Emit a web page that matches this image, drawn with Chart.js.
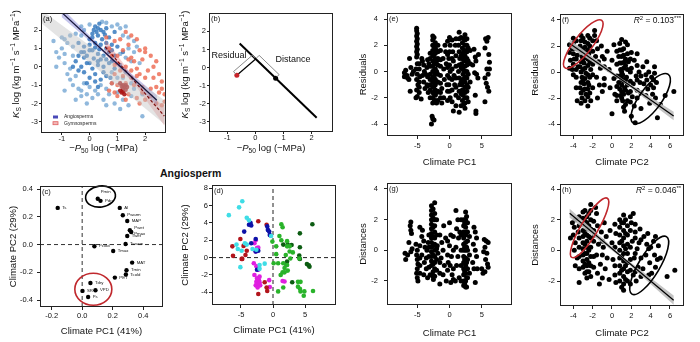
<!DOCTYPE html>
<html>
<head>
<meta charset="utf-8">
<script src="https://cdn.jsdelivr.net/npm/chart.js@4.4.1/dist/chart.umd.min.js"></script>
<style>
html, body { margin: 0; padding: 0; background: #fff; }
#fig { position: relative; width: 700px; height: 342px; overflow: hidden; }
#fig canvas { position: absolute; }
#title { position: absolute; left: 160px; top: 167px; font: bold 10.5px "Liberation Sans", Arial, sans-serif; line-height: 13px; color: #111; }
</style>
</head>
<body>
<div id="fig"><div id="title">Angiosperm</div></div>
<script>
// ---------- data ----------
// (a) Ks vs P50, [ -P50 log, Ks log ]
const angioDark = [[0.2,2.2],[0.3,2.1],[0.4,2.0],[0.25,1.9],[0.1,1.8],[0.5,1.9],[0.6,2.1],[0.35,2.35],[0.15,2.0],
  [-0.2,1.1],[0.0,1.2],[0.2,1.3],[0.4,1.2],[0.6,1.0],[0.8,1.2],[-0.3,0.8],[-0.1,0.6],[0.1,0.9],[0.3,0.7],[0.5,0.6],[0.7,0.8],[0.9,0.6],
  [-0.5,0.3],[-0.3,0.0],[-0.1,0.2],[0.1,-0.1],[0.3,0.3],[0.5,0.0],[0.7,0.2],[0.9,-0.1],[-0.2,-0.3],[0.0,-0.6],[0.2,-0.4],[0.4,-0.7],[0.6,-0.5],
  [0.0,1.5],[-0.4,1.3],[0.45,1.5],[0.7,1.6],[0.9,1.9],[1.0,1.1],[1.2,0.8],[0.3,0.1],[0.0,0.2],[-0.2,0.5],[0.6,0.4],
  [0.1,1.6],[0.3,1.7],[0.55,1.75],[0.2,1.05],[0.35,0.95],[0.6,1.3],[0.0,0.9],[-0.2,0.8],[0.15,0.45],[0.4,0.4],[0.8,0.9],
  [-0.4,0.6],[-0.6,0.0],[-0.4,-0.2],[0.2,-0.8],[0.5,-0.3],[0.75,-0.6],[0.8,0.3],[-0.1,-0.9],[0.3,-1.1]];
const angioLight = [[0.8,2.2],[1.0,2.3],[1.1,2.1],[-0.3,1.7],[-0.5,1.8],[-0.7,1.7],[-0.2,2.0],[1.2,1.7],[1.3,2.2],[0.45,2.45],
  [-1.3,1.4],[-1.0,1.0],[-0.8,1.3],[-0.6,1.1],[1.4,1.0],[-0.9,0.7],[-0.6,0.6],[1.1,0.7],[1.3,0.5],[1.6,0.8],
  [-0.9,0.2],[-0.7,-0.1],[1.1,0.1],[-0.8,-0.4],[-0.5,-0.5],[0.8,-0.3],[1.0,-0.6],[1.5,0.3],[1.8,0.2],
  [-0.6,-1.0],[-0.4,-1.2],[-0.2,-0.9],[0.0,-1.1],[0.2,-1.3],[0.4,-1.0],[0.6,-1.2],[0.8,-0.9],[-0.3,-1.6],[0.1,-1.7],[0.3,-1.5],
  [0.5,-1.8],[-0.1,-2.0],[0.7,-1.5],[1.0,-1.4],[1.2,-1.8],[1.5,-1.6],[0.9,-2.0],[1.4,-2.1],[1.9,-2.7],[1.6,-1.2],[-0.9,-1.3],
  [-1.1,0.5],[-1.2,0.0],[1.7,1.1],
  [-1.0,1.6],[-0.9,1.5],[-1.2,0.8],[-0.3,2.2],[0.0,2.3],[0.6,2.4],[1.4,1.6],[1.6,1.4],[1.3,-0.3],[1.5,-0.9],[-0.7,-0.7],
  [-0.3,-1.3],[-0.1,-1.5],[0.6,-2.1],[1.1,-2.3],[-0.5,-1.8],[1.9,-1.5],[1.2,-0.6]];
const gymnoLight = [[0.6,1.6],[0.9,1.4],[1.1,1.5],[1.4,1.2],[1.7,1.5],[2.0,1.0],[1.2,0.9],[0.8,0.6],[1.5,0.5],[1.9,0.4],[2.2,0.6],
  [1.0,0.2],[1.3,0.0],[1.7,-0.1],[2.1,-0.2],[2.4,0.3],[0.9,-0.4],[1.2,-0.5],[1.5,-0.6],[1.8,-0.4],[2.3,-0.6],[2.6,-0.8],
  [0.8,-0.9],[1.0,-1.0],[1.3,-0.9],[1.4,-1.5],[1.6,-1.0],[1.9,-1.1],[2.2,-1.2],[2.5,-1.4],[2.7,-1.5],[1.0,-1.6],[1.3,-1.8],
  [1.7,-1.7],[2.0,-1.8],[2.4,-2.0],[2.6,-2.1],[0.7,-1.3],[0.9,-1.4],[1.5,-0.2],[2.0,0.8],[1.3,1.9],[1.6,0.3],
  [0.7,1.0],[1.0,0.6],[1.8,0.9],[2.3,0.0],[2.5,-0.4],[1.4,0.4],[1.7,-0.5],[2.0,-0.6],[2.4,-1.1],[2.7,-1.9],[1.9,-1.4],
  [1.1,-0.2],[0.9,0.1],[2.2,-1.6],[2.6,-1.2],[1.5,1.7],[1.8,-2.0]];
const gymnoDark = [[1.1,-0.9],[1.2,-1.0],[1.3,-1.0],[1.2,-1.2],[1.25,-1.1],[1.15,-1.05],[1.3,-1.25],[1.2,-1.35],[1.1,-1.3],[1.35,-1.1],[1.15,-1.4],[1.25,-1.5]];
const angioFit = [[-1.0,2.95],[2.42,-1.82]];
const gymnoFit = [[0.56,1.09],[2.69,-2.69]];
const pooledBand = [[-1.75,3.1],[2.75,-1.9],[2.75,-3.2],[-1.75,2.4]];
const angioBand = [[-1.0,3.2],[0.7,0.66],[2.42,-1.55],[2.42,-2.1],[0.7,0.5],[-1.0,2.7]];
const gymnoBand = [[0.56,1.5],[1.6,-0.6],[2.69,-2.2],[2.69,-3.2],[1.6,-0.92],[0.56,0.68]];

// (b) schematic
const schemeLine = [[-0.56,1.33],[2.18,-2.78]];
const schemeSpecies = [-0.66,-0.43];
const schemeFoot = [0.01,0.475];
const schemeProj = [0.72,-0.59];

// (c) climate variable loadings
const climVars = ['Pmin','Pdry','Ts','AI','Pwarm','MAP','Pwet','Pmax','Twet','Pcold','Twarm','Tmax','MAT','Tmin','Tcold','PET','Tdry','SR','VPD','Ps'];
const climPC1 = [0.102,0.12,-0.16,0.246,0.266,0.295,0.312,0.321,0.295,0.08,0.284,0.203,0.327,0.29,0.286,0.214,0.054,0.002,0.087,0.039];
const climPC2 = [0.33,0.315,0.264,0.264,0.211,0.17,0.103,0.091,0.062,-0.012,0.004,-0.046,-0.13,-0.185,-0.216,-0.238,-0.277,-0.334,-0.329,-0.378];

// (d) site scores [PC1, PC2] by group
const pcCyan = [[-4.8,6.5],[-5.3,5.8],[-6.9,4.9],[-4.1,4.6],[-3.75,4.3],[-5.7,1.5],[-5.5,1.0],[-5.1,-1.1],[-4.4,1.65],[-4.1,1.5],
  [-3.2,1.0],[-2.1,-0.85],[-1.3,-0.7],[-2.1,-1.3],[-0.3,2.5],[-4.9,0.8],[-2.6,0.9]];
const pcNavy = [[-3.5,4.0],[-3.4,3.7],[-3.75,3.8],[-0.9,3.6],[-0.8,3.2],[-0.5,2.6],[-0.6,3.0],[-4.5,3.0],[-2.7,2.15],[-2.3,0.8],[-3.4,1.65],[-2.7,0.7],[-2.5,-1.4]];
const pcRed = [[-2.3,4.2],[-1.0,3.8],[-5.1,2.15],[-6.35,1.3],[-6.25,0.2],[-4.9,-0.15],[-4.6,1.35],[-4.1,0.8],[-4.3,0.3],[-4.8,-0.15],
  [-1.3,-2.85],[-1.0,-3.45],[-0.9,-3.85],[-2.3,-4.2],[-4.4,1.5]];
const pcMagenta = [[-2.7,2.0],[-2.5,1.1],[-2.7,0.7],[-3.0,-0.65],[-2.6,-1.0],[-2.3,-1.4],[-2.9,-2.0],[-2.5,-2.4],[-2.2,-2.6],[-2.6,-2.8],
  [-2.3,-3.1],[-2.1,-2.85],[-2.7,-3.2],[-2.0,-3.2],[-0.6,-2.6],[-0.5,-3.4],[1.5,-2.7],[1.8,-2.75],[-2.9,1.65],[-2.3,1.15],[-2.4,-3.45],[-2.1,-2.2]];
const pcGreen = [[1.3,3.85],[1.5,3.5],[1.0,2.5],[1.3,2.0],[-0.1,1.85],[0.5,1.3],[2.2,1.3],[2.6,0.7],[2.0,0.3],[0.1,-0.65],[0.8,-0.65],
  [1.6,-0.65],[1.8,-1.2],[1.5,-1.7],[1.8,-1.7],[1.2,-2.0],[2.2,-0.85],[2.3,-1.5],[0.8,-3.9],[1.6,-3.45],[2.7,-0.1],[3.9,-2.8],
  [4.2,-3.6],[4.3,-3.9],[4.8,-4.4],[4.9,-3.9],[6.25,-3.85],[3.9,-3.35],[2.2,1.9],[2.6,1.3],[3.1,0.6],[4.1,-0.1],[4.3,-2.8],[0.5,0.4]];
const pcDarkGreen = [[6.15,3.85],[4.2,2.8],[1.6,1.5],[2.3,1.5],[4.2,1.2],[4.1,0.25],[4.2,-0.15],[2.2,-0.45],[2.1,-0.85],[3.0,-2.85],
  [5.3,-0.75],[5.6,-0.9],[5.7,-1.05],[2.9,1.45]];

// (e) residuals vs Climate PC1
const resPC1 = [[-5.1,3.3],[-5.1,3.1],[-5.0,2.9],[-5.1,2.7],[-5.0,2.5],[-5.1,2.3],[-5.0,2.1],[-5.1,1.9],[-5.0,1.7],[-5.1,1.5],[-5.0,1.3],
  [-5.1,1.1],[-5.0,0.6],[-5.2,0.2],[-5.0,-0.2],[-5.1,-0.6],[-4.9,-1.0],[-5.1,-1.4],[-5.0,-1.9],[-5.2,-2.0],
  [-7.0,-0.1],[-7.0,-0.4],[-6.8,0.1],[-6.6,-0.3],[-6.3,-0.6],[-6.2,1.0],[-6.1,-1.5],[-6.0,0.3],[-5.8,-0.2],[-5.6,0.0],[-6.5,-0.5],
  [-4.3,1.0],[-4.2,0.8],[-4.0,0.5],[-4.2,-0.3],[-4.0,-0.8],[-3.8,-1.3],[-4.4,-2.1],[-3.7,-0.2],[-3.5,0.3],[-3.5,-1.0],[-3.3,-1.6],
  [-4.6,-0.4],[-3.9,0.0],[-3.2,0.6],[-3.0,-2.0],[-3.4,0.9],[-3.4,-0.4],[-3.4,-1.1],
  [-4.7,0.6],[-4.7,0.2],[-4.7,-0.8],[-4.7,-1.2],[-4.7,-1.6],
  [-3.0,1.4],[-3.0,1.0],[-3.0,0.4],[-3.0,-0.2],[-3.0,-0.6],[-3.0,-1.0],[-3.0,-1.4],
  [-2.6,2.7],[-2.6,2.4],[-2.6,2.0],[-2.6,1.6],[-2.6,1.2],[-2.6,0.8],[-2.6,0.4],[-2.6,0.0],[-2.6,-0.4],[-2.6,-0.8],[-2.6,-1.2],[-2.6,-1.6],[-2.6,-2.0],[-2.6,-2.4],
  [-2.4,2.6],[-2.4,1.9],[-2.4,1.3],[-2.4,0.7],[-2.4,0.1],[-2.4,-0.5],[-2.4,-1.1],[-2.4,-1.7],[-2.4,-2.3],
  [-2.2,2.2],[-2.2,1.8],[-2.2,1.4],[-2.2,1.0],[-2.2,0.6],[-2.2,0.2],[-2.2,-0.2],[-2.2,-0.6],[-2.2,-1.0],[-2.2,-1.4],[-2.2,-1.8],[-2.2,-2.2],
  [-2.0,1.6],[-2.0,0.8],[-2.0,0.0],[-2.0,-0.8],[-2.0,-1.6],[-2.0,-2.4],
  [-1.8,2.0],[-1.8,1.5],[-1.8,1.0],[-1.8,0.5],[-1.8,-0.2],[-1.8,-0.8],[-1.8,-1.5],[-1.8,-2.2],
  [-1.4,1.6],[-1.4,0.9],[-1.4,-0.3],[-1.4,-0.9],[-1.4,-1.6],[-1.4,-2.0],
  [-2.7,-3.4],[-2.6,-3.6],[-2.4,-3.7],[-2.8,-4.0],
  [-1.0,1.0],[-0.9,0.2],[-0.8,-0.6],[-1.2,-1.3],[-0.6,1.5],[-0.5,0.6],[-0.4,-1.0],[-1.2,-2.4],[-0.9,-2.0],[-1.4,0.4],[-0.7,2.0],
  [-0.3,2.3],[-0.3,1.3],[-0.3,0.3],[-0.3,-0.3],[-0.3,-1.5],[-0.3,-2.2],
  [0.0,2.6],[0.1,2.0],[0.0,1.5],[-0.1,1.0],[0.0,0.5],[0.1,0.0],[0.0,-0.5],[-0.1,-1.0],[0.0,-1.5],[0.1,-2.0],
  [0.4,2.4],[0.4,1.0],[0.4,0.2],[0.4,-1.4],[0.4,-2.3],
  [0.5,1.5],[0.6,0.8],[0.7,-0.3],[0.8,-1.0],[0.6,-3.0],[0.9,2.0],[1.0,-1.8],[0.4,-0.6],
  [1.0,2.5],[1.0,1.2],[1.0,0.4],[1.0,-0.5],[1.0,-1.2],[1.0,-2.6],
  [1.5,3.0],[1.5,2.5],[1.4,2.0],[1.5,1.5],[1.6,1.0],[1.5,0.5],[1.4,0.0],[1.5,-0.5],[1.6,-1.0],[1.5,-1.5],[1.4,-2.0],[1.5,-3.1],
  [1.8,2.6],[1.8,1.2],[1.8,0.3],[1.8,-0.8],[1.8,-1.7],[1.8,-2.6],
  [2.0,2.2],[2.0,1.8],[2.1,1.4],[2.0,1.0],[1.9,0.6],[2.0,0.2],[2.1,-0.2],[2.0,-0.6],[1.9,-1.0],[2.0,-1.4],[2.1,-1.8],[2.0,-2.2],
  [2.2,2.5],[2.2,1.6],[2.2,0.9],[2.2,0.1],[2.2,-0.7],[2.2,-1.5],[2.2,-2.5],
  [2.4,2.8],[2.4,2.4],[2.4,2.0],[2.4,1.6],[2.4,1.2],[2.4,0.8],[2.4,0.4],[2.4,0.0],[2.4,-0.4],[2.4,-0.8],[2.4,-1.2],[2.4,-1.6],[2.4,-2.0],[2.4,-2.4],[2.4,-2.8],
  [2.7,2.5],[2.7,2.0],[2.7,1.5],[2.7,1.0],[2.7,0.5],[2.7,0.0],[2.7,-0.5],[2.7,-1.0],[2.7,-1.5],[2.7,-2.0],
  [2.9,1.8],[2.9,0.8],[2.9,-0.2],[2.9,-1.2],[2.9,-2.3],[3.2,1.6],[3.2,0.6],[3.2,-0.8],
  [3.8,1.7],[4.0,1.1],[4.1,0.8],[3.9,-0.1],[4.2,-0.2],[4.4,-0.5],[4.0,-1.8],[4.1,-3.0],[4.1,-3.2],[3.6,0.5],[4.5,1.3],
  [5.6,2.5],[5.8,2.3],[6.0,2.6],[5.5,1.8],[6.1,1.3],[6.2,0.7],[5.8,0.2],[6.0,-0.2],[5.5,-0.5],[5.7,-0.9],[5.9,-1.2],[6.1,-1.5],[5.5,-2.3],[6.2,0.2]];

// (f) residuals vs Climate PC2
const resPC2 = [[-4.0,2.6],[-4.0,2.2],[-4.1,1.8],[-4.0,1.4],[-3.9,1.0],[-4.0,0.6],[-4.1,0.2],[-4.0,-0.2],
  [-4.4,2.1],[-4.4,1.5],[-4.3,0.9],[-4.4,0.3],
  [-3.7,2.4],[-3.7,1.8],[-3.7,1.0],[-3.7,0.2],[-3.7,-0.4],[-3.7,-1.2],
  [-3.2,2.8],[-3.2,2.4],[-3.3,2.0],[-3.2,1.6],[-3.1,1.2],[-3.2,0.8],[-3.3,0.4],[-3.2,0.0],[-3.1,-0.4],[-3.2,-0.8],[-3.3,-1.2],[-3.2,-1.6],[-3.1,-2.0],[-3.2,-2.4],
  [-3.0,2.6],[-3.0,1.8],[-3.0,1.0],[-3.0,0.2],[-3.0,-0.6],[-3.0,-1.4],
  [-2.8,2.3],[-2.8,1.9],[-2.7,1.5],[-2.8,1.1],[-2.9,0.7],[-2.8,0.3],[-2.7,-0.1],[-2.8,-0.5],[-2.9,-0.9],[-2.8,-1.3],[-2.7,-1.7],[-2.8,-2.2],
  [-2.5,2.8],[-2.5,2.2],[-2.5,1.7],[-2.5,1.0],[-2.5,0.5],[-2.5,-0.2],[-2.5,-0.8],[-2.5,-1.3],[-2.5,-1.9],
  [-2.3,2.6],[-2.3,2.0],[-2.4,1.4],[-2.3,0.8],[-2.2,0.2],[-2.3,-0.4],[-2.4,-1.0],[-2.3,-1.6],[-2.2,-2.2],
  [-2.0,2.4],[-2.0,1.6],[-2.0,0.6],[-2.0,-0.2],[-2.0,-1.2],
  [-3.6,-2.2],[-2.5,-2.6],[-3.6,1.3],[-3.5,0.4],
  [-1.8,3.2],[-1.8,2.8],[-1.6,2.4],[-1.5,1.8],[-1.7,1.2],[-1.4,0.8],[-1.2,0.3],[-1.6,-0.4],[-1.3,-1.0],[-1.0,-1.5],[-1.5,-2.0],[-1.1,2.0],[-1.0,1.2],[-0.8,-0.5],
  [-0.8,1.0],[-0.8,0.4],[-0.8,-1.0],
  [0.0,-3.2],[-0.5,1.6],[0.0,0.9],[-0.3,0.2],[0.2,-0.5],[-0.2,-1.2],[0.3,-1.7],[0.5,-2.2],[0.2,2.1],
  [0.5,1.6],[0.5,0.6],[0.5,-0.3],[0.5,-1.1],[0.5,-1.8],
  [0.8,2.2],[0.8,1.7],[0.7,1.2],[0.8,0.7],[0.9,0.2],[0.8,-0.3],[0.7,-0.8],[0.8,-1.3],[0.9,-1.8],
  [1.0,2.5],[1.0,1.7],[1.0,1.2],[1.0,0.7],[1.0,0.0],[1.0,-0.5],[1.0,-1.0],[1.0,-1.5],[1.0,-2.0],
  [1.2,1.8],[1.2,1.3],[1.3,0.8],[1.2,0.3],[1.1,-0.2],[1.2,-0.7],[1.3,-1.2],[1.2,-1.7],[1.1,-2.2],[1.2,-2.7],[1.3,-3.0],
  [1.4,2.3],[1.4,1.0],[1.4,0.5],[1.4,-0.6],[1.4,-1.4],[1.4,-2.5],
  [1.6,2.1],[1.6,1.4],[1.7,0.8],[1.6,0.2],[1.5,-0.4],[1.6,-1.0],[1.7,-1.6],[1.6,-2.2],
  [1.9,1.0],[1.9,0.0],[1.9,-0.7],[1.9,-1.5],[1.9,-2.3],
  [2.0,1.5],[2.3,0.9],[2.0,0.3],[2.5,-0.3],[2.2,-0.9],[2.6,-1.4],[2.1,-1.9],[2.3,-2.6],[2.0,-3.4],[2.4,-3.9],[2.8,0.0],[2.9,-0.8],
  [2.6,1.4],[2.6,0.5],[2.6,-0.6],[2.6,-2.0],[3.0,-0.3],[3.0,-1.6],[3.0,-2.8],
  [3.2,0.4],[3.5,-0.2],[3.8,0.0],[4.1,-0.4],[4.4,-0.1],[3.3,-0.9],[3.7,-1.3],[4.0,-1.0],[3.5,-1.8],[4.2,-1.7],[4.5,-2.0],[3.9,-2.4],
  [4.6,-0.8],[4.7,-3.5],[5.0,-2.5],[4.4,0.4],[4.3,-0.6],[4.3,-1.2],[3.6,0.8],[3.6,-0.6],[6.4,-1.5],[5.5,-1.8]];
const resFit = [[-4.38,2.2],[6.38,-3.38]];
const resBand = [[-4.38,2.5],[1.0,-0.5],[6.38,-3.05],[6.38,-3.7],[1.0,-0.68],[-4.38,1.9]];

// (g) distances vs Climate PC1
const distPC1 = [[-6.0,1.85],[-6.1,1.6],[-6.0,1.3],[-5.9,1.1],[-6.9,-0.2],[-6.8,-0.6],[-6.5,-0.3],[-6.0,-0.1],[-5.8,0.1],[-6.3,0.5],
  [-5.0,0.0],[-5.1,-0.3],[-5.0,-0.6],[-4.9,-0.9],[-5.0,-1.2],[-5.1,-1.5],[-5.0,-1.8],[-4.9,-2.0],[-5.2,0.4],
  [-4.6,1.5],[-4.3,0.9],[-4.2,1.3],[-4.0,0.6],[-3.8,0.2],[-4.3,-0.3],[-3.9,-0.8],[-3.6,-1.2],[-3.4,-1.8],[-4.0,-1.6],[-3.5,0.0],[-3.3,0.5],[-3.6,-0.5],
  [-4.6,0.3],[-4.6,-0.5],[-4.6,-1.0],[-4.6,-1.5],[-3.2,1.0],[-3.2,0.2],[-3.2,-0.4],[-3.2,-1.1],
  [-2.8,2.9],[-2.8,2.6],[-2.8,2.3],[-2.8,2.0],[-2.8,1.7],[-2.8,1.4],[-2.8,1.1],[-2.8,0.8],[-2.8,0.5],[-2.8,0.2],[-2.8,-0.1],[-2.8,-0.4],[-2.8,-0.7],[-2.8,-1.0],
  [-2.55,2.7],[-2.55,2.1],[-2.55,1.5],[-2.55,0.9],[-2.55,0.3],[-2.55,-0.3],[-2.55,-0.9],[-2.55,-1.4],
  [-2.3,3.1],[-2.3,2.4],[-2.3,2.0],[-2.3,1.6],[-2.3,1.2],[-2.3,0.8],[-2.3,0.4],[-2.3,0.0],[-2.3,-0.4],[-2.3,-0.8],[-2.3,-1.2],[-2.3,-1.7],
  [-2.0,2.0],[-2.0,1.0],[-2.0,0.1],[-2.0,-0.6],[-2.0,-1.3],
  [-2.6,-1.7],[-2.5,-1.9],[-3.0,-1.6],
  [-1.5,1.0],[-1.2,0.5],[-1.0,0.0],[-1.3,-0.5],[-0.8,-1.0],[-1.0,-1.6],[-0.5,-2.0],[-1.5,-2.2],[-0.6,0.8],[-0.9,1.6],[-1.8,-0.2],[-1.9,0.3],
  [-1.5,-0.8],[-1.5,-1.5],[-0.3,0.6],[-0.3,-0.3],[-0.3,-1.3],
  [0.0,1.8],[0.2,1.0],[0.0,0.3],[0.3,-0.4],[0.1,-1.0],[0.4,-1.6],[0.2,-2.1],[-0.2,-0.8],
  [0.6,0.9],[0.6,0.0],[0.6,-1.2],[0.6,-1.9],
  [1.0,2.6],[1.3,2.0],[1.1,1.4],[1.4,0.8],[1.0,0.2],[1.3,-0.4],[1.1,-1.0],[1.5,-1.8],[0.9,-2.0],[1.6,1.2],
  [1.8,2.0],[1.8,1.0],[1.8,0.0],[1.8,-1.0],[1.8,-2.0],
  [2.2,2.0],[2.2,1.6],[2.2,1.2],[2.2,0.8],[2.2,0.4],[2.2,0.0],[2.2,-0.4],[2.2,-0.8],[2.2,-1.2],[2.2,-1.6],[2.2,-2.0],[2.2,-2.3],
  [2.35,1.8],[2.35,1.0],[2.35,0.2],[2.35,-0.6],[2.35,-1.4],[2.35,-2.2],
  [2.5,2.5],[2.5,2.0],[2.5,1.5],[2.5,1.0],[2.5,0.5],[2.5,0.0],[2.5,-0.5],[2.5,-1.0],[2.5,-1.5],[2.5,-2.0],[2.5,-2.4],
  [2.65,2.2],[2.65,1.2],[2.65,0.2],[2.65,-0.8],[2.65,-1.8],[2.65,-2.4],
  [2.8,1.8],[2.8,1.2],[2.8,0.6],[2.8,0.0],[2.8,-0.6],[2.8,-1.2],[2.8,-1.8],
  [3.1,0.9],[3.1,-0.3],[3.1,-1.5],
  [3.8,1.5],[4.0,1.2],[4.2,0.8],[3.7,0.4],[4.0,0.0],[4.2,-0.4],[3.8,-1.2],[4.3,-1.2],[4.0,-2.1],[3.6,-0.8],
  [5.4,0.7],[5.7,0.6],[6.0,0.5],[5.5,0.2],[5.8,-0.2],[5.6,-0.6],[5.9,-0.9],[6.0,-1.1],[5.5,-1.4],[5.0,-1.2],[5.2,-1.5],[5.3,-0.1]];

// (h) distances vs Climate PC2
const distPC2 = [[-4.3,0.8],[-3.8,2.0],[-3.9,1.5],[-4.0,1.0],[-3.8,0.5],[-3.9,0.0],[-3.6,-0.5],[-3.8,-1.0],[-3.4,-2.1],[-3.5,1.2],[-4.1,1.8],
  [-3.4,2.2],[-3.4,1.6],[-3.4,0.8],[-3.4,0.2],[-3.4,-0.4],[-3.4,-1.2],
  [-3.0,2.5],[-3.0,2.1],[-3.0,1.7],[-3.0,1.3],[-3.0,0.9],[-3.0,0.5],[-3.0,0.1],[-3.0,-0.3],[-3.0,-0.7],[-3.0,-1.1],
  [-2.8,2.6],[-2.8,1.9],[-2.8,1.1],[-2.8,0.4],[-2.8,-0.2],[-2.8,-0.9],[-2.8,-1.5],
  [-2.6,2.2],[-2.6,1.8],[-2.6,1.4],[-2.6,1.0],[-2.6,0.6],[-2.6,0.2],[-2.6,-0.2],[-2.6,-0.6],[-2.6,-1.0],[-2.6,-1.4],[-2.6,-1.8],
  [-2.4,2.4],[-2.4,1.6],[-2.4,0.9],[-2.4,0.0],[-2.4,-0.8],[-2.4,-1.4],
  [-2.2,3.0],[-2.2,2.6],[-2.2,2.0],[-2.2,1.4],[-2.2,0.8],[-2.2,0.2],[-2.2,-0.4],[-2.2,-1.0],[-2.2,-1.7],
  [-1.9,1.9],[-1.9,1.3],[-1.9,0.6],[-1.9,-0.4],[-1.9,-1.1],
  [-1.7,2.8],[-1.6,2.4],[-1.5,1.6],[-1.8,1.0],[-1.4,0.4],[-1.6,-0.3],[-1.2,-0.9],[-1.5,-1.5],[-1.3,-2.2],[-1.1,1.2],
  [-1.0,0.6],[-1.0,-0.3],[-1.0,-1.8],
  [-0.8,1.8],[-0.6,0.9],[-0.9,0.2],[-0.5,-0.5],[-0.7,-1.2],[-0.3,-1.9],[-0.2,1.3],[0.0,0.5],[0.1,-0.6],
  [0.3,1.7],[0.3,0.2],[0.3,-1.0],[0.3,-1.6],
  [0.8,2.0],[0.8,1.5],[0.8,1.0],[0.8,0.5],[0.8,0.0],[0.8,-0.5],[0.8,-1.0],[0.8,-1.5],[0.8,-2.0],
  [1.0,1.8],[1.0,0.6],[1.0,-0.4],[1.0,-1.3],[1.0,-2.4],
  [1.2,2.3],[1.2,1.8],[1.2,1.3],[1.2,0.8],[1.2,0.3],[1.2,-0.2],[1.2,-0.7],[1.2,-1.2],[1.2,-1.7],[1.2,-2.2],[1.2,-2.6],
  [1.4,2.0],[1.4,1.1],[1.4,0.1],[1.4,-1.0],[1.4,-1.9],
  [1.6,1.6],[1.6,1.0],[1.6,0.4],[1.6,-0.2],[1.6,-0.8],[1.6,-1.4],[1.6,-2.0],[0.4,-2.1],[0.4,1.1],
  [1.9,2.2],[1.9,1.3],[1.9,0.2],[1.9,-0.6],[1.9,-1.3],[1.9,-2.2],
  [2.2,2.4],[2.0,1.8],[2.4,1.2],[2.1,0.6],[2.6,0.1],[2.3,-0.5],[2.7,-1.1],[2.2,-1.6],[2.5,-2.0],[2.9,1.4],[2.8,0.5],
  [2.4,1.7],[2.4,0.8],[2.4,-0.2],[2.4,-1.4],[3.0,0.7],[3.0,-0.5],[3.0,-1.7],
  [3.3,0.9],[3.6,0.4],[4.0,0.2],[4.3,0.6],[3.5,-0.3],[3.9,-0.8],[4.4,-0.3],[3.2,-1.2],[4.7,-0.6],[4.1,-1.5],[5.0,-0.5],[4.8,0.3],[3.7,1.1],
  [4.5,0.9],[4.5,-1.1],[3.8,0.1],[3.8,-1.6],
  [5.7,-1.7],[6.5,-1.3]];
const distFit = [[-4.38,2.42],[6.38,-3.25]];
const distBand = [[-4.38,2.72],[1.0,-0.33],[6.38,-2.95],[6.38,-3.55],[1.0,-0.5],[-4.38,2.12]];

// tick labels
const ksXTicks = [-1, 0, 1, 2];
const ksYTicks = [-3, -2, -1, 0, 1, 2];
const loadXTicks = [-0.2, 0.0, 0.2, 0.4];
const loadYTicks = [-0.4, -0.2, 0.0, 0.2, 0.4];
const scoreXTicks = [-5, 0, 5];
const scoreYTicks = [-4, -2, 0, 2, 4, 6, 8];
const pc1Ticks = [-5, 0, 5];
const pc2Ticks = [-4, -2, 0, 2, 4, 6];
const resYTicks = [-4, -2, 0, 2, 4];
const distYTicks = [-2, 0, 2, 4];

// ---------- helpers ----------
const FONT = '"Liberation Sans", Arial, sans-serif';
Chart.defaults.font.family = FONT;
const fig = document.getElementById('fig');
const YW = 40, XH = 36, PT = 12, PR = 12;

function toXY(arr) { return arr.map(p => ({x: p[0], y: p[1]})); }
function pts(arr, color, r, order) {
  return {type: 'scatter', data: toXY(arr), backgroundColor: color, borderColor: color, borderWidth: 0, pointRadius: r, order: order};
}
function seg(arr, color, w, dash, order) {
  return {type: 'line', data: toXY(arr), borderColor: color, borderWidth: w, borderDash: dash || [], pointRadius: 0, fill: false, tension: 0, order: order};
}
function band(arr, color, order) {
  return {type: 'line', data: toXY(arr.concat([arr[0]])), backgroundColor: color, borderColor: 'rgba(0,0,0,0)', borderWidth: 0, pointRadius: 0, fill: 'shape', tension: 0, order: order};
}

function drawRuns(ctx, runs, x, y, size, rot, align) {
  ctx.save();
  ctx.translate(x, y);
  if (rot) ctx.rotate(-Math.PI / 2);
  const parts = runs.map(r => {
    const o = typeof r === 'string' ? {t: r} : r;
    const fs = (o.sub || o.sup) ? size * 0.7 : size;
    return Object.assign({}, o, {font: (o.i ? 'italic ' : '') + fs + 'px ' + FONT});
  });
  let total = 0;
  parts.forEach(p => { ctx.font = p.font; p.w = ctx.measureText(p.t).width; total += p.w; });
  let cx = align === 'right' ? -total : align === 'left' ? 0 : -total / 2;
  ctx.textBaseline = 'middle';
  ctx.textAlign = 'left';
  ctx.fillStyle = '#111';
  parts.forEach(p => {
    ctx.font = p.font;
    ctx.fillText(p.t, cx, p.sub ? size * 0.3 : p.sup ? -size * 0.35 : 0);
    cx += p.w;
  });
  ctx.restore();
}

function decoPlugin(d) {
  return {
    id: 'deco',
    afterDatasetsDraw(chart) {
      const ctx = chart.ctx, a = chart.chartArea;
      const xs = chart.scales.x, ys = chart.scales.y;
      const px = v => xs.getPixelForValue(v), py = v => ys.getPixelForValue(v);
      ctx.save();
      (d.ellipses || []).forEach(e => {
        ctx.beginPath();
        ctx.ellipse(px(e.x), py(e.y), e.rx, e.ry, e.rot * Math.PI / 180, 0, 2 * Math.PI);
        ctx.strokeStyle = e.c; ctx.lineWidth = 1.6; ctx.setLineDash([]);
        ctx.stroke();
      });
      if (d.extra) d.extra(ctx, a, px, py);
      ctx.strokeStyle = '#222'; ctx.lineWidth = 1; ctx.setLineDash([]);
      ctx.strokeRect(a.left + 0.5, a.top + 0.5, a.right - a.left - 1, a.bottom - a.top - 1);
      ctx.fillStyle = '#111';
      ctx.font = '7.5px ' + FONT;
      ctx.textBaseline = 'middle'; ctx.textAlign = 'left';
      ctx.fillText(d.letter, a.left + 2, a.top + 6);
      drawRuns(ctx, d.xTitle, (a.left + a.right) / 2, a.bottom + d.xOff, d.ts, false, 'center');
      drawRuns(ctx, d.yTitle, a.left - d.yOff, (a.top + a.bottom) / 2 + (d.yShift || 0), d.ts, true, 'center');
      ctx.restore();
    }
  };
}

function axis(pos, min, max, ticks, tl, pad, fmt) {
  return {
    type: 'linear', position: pos, min: min, max: max,
    afterBuildTicks: s => { s.ticks = ticks.map(v => ({value: v})); },
    afterFit: s => { if (pos === 'left') s.width = YW; else s.height = XH; },
    grid: {display: true, drawOnChartArea: false, drawTicks: true, tickLength: tl, color: '#222', lineWidth: 1},
    border: {display: false},
    ticks: {padding: pad, color: '#111', font: {size: 7.5}, maxRotation: 0, autoSkip: false,
      callback: fmt || (v => String(v))}
  };
}

function makePanel(p) {
  const [L, T, R, B] = p.box;
  const w = R - L + YW + PR, h = B - T + PT + XH;
  const c = document.createElement('canvas');
  c.width = w; c.height = h;
  c.style.left = (L - YW) + 'px'; c.style.top = (T - PT) + 'px';
  c.style.width = w + 'px'; c.style.height = h + 'px';
  fig.appendChild(c);
  return new Chart(c, {
    type: 'scatter',
    data: {datasets: p.datasets},
    options: {
      responsive: false, animation: false, events: [],
      layout: {padding: {top: PT, right: PR, left: 0, bottom: 0}},
      plugins: {legend: {display: false}, tooltip: {enabled: false}},
      scales: {
        x: axis('bottom', p.x[0], p.x[1], p.xTicks, p.tl, p.xPad, p.fmt),
        y: axis('left', p.y[0], p.y[1], p.yTicks, p.tl, p.yPad, p.fmt)
      }
    },
    plugins: [decoPlugin(p.deco)]
  });
}

const P50_TITLE = ['\u2212', {t: 'P', i: true}, {t: '50', sub: true}, ' log (\u2212MPa)'];
const KS_TITLE = [{t: 'K', i: true}, {t: 'S', sub: true}, ' log (kg m', {t: '\u22121', sup: true}, ' s', {t: '\u22121', sup: true}, ' MPa', {t: '\u22121', sup: true}, ')'];

// ---------- (a) ----------
makePanel({
  box: [41, 13, 166, 133], x: [-1.75, 2.75], y: [-3.61, 2.93], xTicks: ksXTicks, yTicks: ksYTicks, tl: 2, xPad: -1, yPad: 1,
  datasets: [
    pts(angioLight, 'rgba(125,172,214,0.85)', 2.2, 6),
    pts(angioDark, 'rgba(55,122,190,0.85)', 2.2, 5),
    pts(gymnoLight, 'rgba(236,102,78,0.8)', 2.2, 4),
    pts(gymnoDark, 'rgba(172,22,22,0.9)', 2.2, 3),
    band(pooledBand, 'rgba(195,195,195,0.45)', 2),
    band(angioBand, 'rgba(90,90,200,0.35)', 2),
    band(gymnoBand, 'rgba(230,110,110,0.35)', 2),
    seg(angioFit, '#15153a', 1.3, [], 1),
    seg(gymnoFit, '#7a0c0c', 1.2, [3, 2], 1)
  ],
  deco: {letter: '(a)', xTitle: P50_TITLE, yTitle: KS_TITLE, ts: 9.5, xOff: 15.5, yOff: 25, yShift: -9,
    extra: (ctx, a) => {
      ctx.font = '5px ' + FONT; ctx.textBaseline = 'middle'; ctx.textAlign = 'left';
      ctx.fillStyle = '#4a4ab8'; ctx.fillRect(a.left + 12, a.bottom - 17.5, 5, 3);
      ctx.fillStyle = '#f2b8b8'; ctx.fillRect(a.left + 12, a.bottom - 11.3, 5, 3);
      ctx.strokeStyle = '#e06060'; ctx.lineWidth = 0.8; ctx.strokeRect(a.left + 12, a.bottom - 11.3, 5, 3);
      ctx.fillStyle = '#222';
      ctx.fillText('Angiosperms', a.left + 23, a.bottom - 16);
      ctx.fillText('Gymnosperms', a.left + 23, a.bottom - 9.7);
    }}
});

// ---------- (b) ----------
makePanel({
  box: [209, 13, 333, 132], x: [-1.65, 2.76], y: [-3.57, 3.02], xTicks: ksXTicks, yTicks: ksYTicks, tl: 2, xPad: -1, yPad: 1,
  datasets: [
    seg(schemeLine, '#000', 2, [], 2),
    seg([schemeSpecies, schemeFoot], '#000', 1.2, [], 2),
    pts([schemeSpecies], '#c8242a', 2.5, 1),
    pts([schemeProj], '#000', 2.5, 1)
  ],
  deco: {letter: '(b)', xTitle: P50_TITLE, yTitle: KS_TITLE, ts: 9.5, xOff: 16.5, yOff: 24, yShift: -8,
    extra: (ctx, a, px, py) => {
      const bracket = (p, q, off) => {
        const x1 = px(p[0]), y1 = py(p[1]), x2 = px(q[0]), y2 = py(q[1]);
        const len = Math.hypot(x2 - x1, y2 - y1), ux = (x2 - x1) / len, uy = (y2 - y1) / len;
        const nx = uy, ny = -ux;
        ctx.beginPath();
        ctx.moveTo(x1 + nx * 1.5, y1 + ny * 1.5);
        ctx.lineTo(x1 + nx * off, y1 + ny * off);
        ctx.lineTo(x2 + nx * off, y2 + ny * off);
        ctx.lineTo(x2 + nx * 1.5, y2 + ny * 1.5);
        ctx.strokeStyle = '#8a8a8a'; ctx.lineWidth = 1; ctx.stroke();
      };
      bracket(schemeSpecies, schemeFoot, 5);
      bracket(schemeFoot, schemeProj, 5);
      ctx.font = '9px ' + FONT; ctx.fillStyle = '#111'; ctx.textAlign = 'center'; ctx.textBaseline = 'middle';
      ctx.fillText('Residual', px(-0.94), py(0.65));
      ctx.fillText('Distance', px(1.34), py(0.47));
    }}
});

// ---------- (c) ----------
const labelOffsets = {Pmin: [3, -6.5], Pwet: [4.5, -2], Pmax: [3, 1.4], Tcold: [4.5, 0.6]};
makePanel({
  box: [40, 186, 163, 307], x: [-0.276, 0.529], y: [-0.45, 0.422], xTicks: loadXTicks, yTicks: loadYTicks, tl: 3, xPad: 1, yPad: 4,
  fmt: v => v.toFixed(1),
  datasets: [
    seg([[0, -0.45], [0, 0.422]], '#333', 1, [4, 3], 2),
    seg([[-0.276, 0], [0.529, 0]], '#333', 1, [4, 3], 2),
    pts(climPC1.map((v, i) => [v, climPC2[i]]), '#000', 2.2, 1)
  ],
  deco: {letter: '(c)', xTitle: ['Climate PC1 (41%)'], yTitle: ['Climate PC2 (29%)'], ts: 9.5, xOff: 24, yOff: 27,
    ellipses: [{x: 0.12, y: 0.346, rx: 15, ry: 10.5, rot: -8, c: '#000'}, {x: 0.073, y: -0.322, rx: 18.5, ry: 16, rot: 0, c: '#c0282d'}],
    extra: (ctx, a, px, py) => {
      ctx.font = '4.3px ' + FONT; ctx.fillStyle = '#111'; ctx.textAlign = 'left'; ctx.textBaseline = 'middle';
      climVars.forEach((n, i) => {
        const o = labelOffsets[n] || [4.5, 0];
        ctx.fillText(n, px(climPC1[i]) + o[0], py(climPC2[i]) + o[1]);
      });
    }}
});

// ---------- (d) ----------
makePanel({
  box: [212, 185, 336, 305], x: [-9.53, 9.84], y: [-5.47, 8.38], xTicks: scoreXTicks, yTicks: scoreYTicks, tl: 3, xPad: 2, yPad: 1,
  datasets: [
    seg([[0, -5.47], [0, 8.38]], '#222', 1, [4, 3], 2),
    seg([[-9.53, 0], [9.84, 0]], '#222', 1, [4, 3], 2),
    pts(pcCyan, '#3fdde6', 2.3, 1),
    pts(pcNavy, '#0d12a8', 2.3, 1),
    pts(pcRed, '#b2141b', 2.3, 1),
    pts(pcMagenta, '#e01fe0', 2.3, 1),
    pts(pcGreen, '#29b32a', 2.3, 1),
    pts(pcDarkGreen, '#0c5c12', 2.3, 1)
  ],
  deco: {letter: '(d)', xTitle: ['Climate PC1 (41%)'], yTitle: ['Climate PC2 (29%)'], ts: 9.5, xOff: 25.5, yOff: 27}
});

// ---------- (e) ----------
makePanel({
  box: [387, 13, 512, 136], x: [-9.7, 9.7], y: [-4.91, 4.46], xTicks: pc1Ticks, yTicks: resYTicks, tl: 3, xPad: 2, yPad: 6,
  datasets: [pts(resPC1, '#000', 2.5, 1)],
  deco: {letter: '(e)', xTitle: ['Climate PC1'], yTitle: ['Residuals'], ts: 9.5, xOff: 26, yOff: 24}
});

// ---------- (f) ----------
makePanel({
  box: [560, 14, 684, 136], x: [-5.38, 7.45], y: [-4.91, 4.46], xTicks: pc2Ticks, yTicks: resYTicks, tl: 3, xPad: 2, yPad: 2,
  datasets: [
    pts(resPC2, '#000', 2.5, 3),
    band(resBand, 'rgba(190,190,190,0.9)', 2),
    seg(resFit, '#000', 1.2, [], 1)
  ],
  deco: {letter: '(f)', xTitle: ['Climate PC2'], yTitle: ['Residuals'], ts: 9.5, xOff: 26, yOff: 25,
    ellipses: [{x: -2.97, y: 2.15, rx: 30, ry: 9, rot: -52, c: '#c0282d'}, {x: 4.0, y: -2.04, rx: 30, ry: 11, rot: -54, c: '#000'}],
    extra: (ctx, a) => {
      drawRuns(ctx, [{t: 'R', i: true}, {t: '2', sup: true}, ' = 0.103', {t: '***', sup: true}], a.right - 3, a.top + 7, 8.5, false, 'right');
    }}
});

// ---------- (g) ----------
makePanel({
  box: [387, 183, 512, 305], x: [-9.7, 9.7], y: [-3.57, 4.39], xTicks: pc1Ticks, yTicks: distYTicks, tl: 3, xPad: 2, yPad: 6,
  datasets: [pts(distPC1, '#000', 2.5, 1)],
  deco: {letter: '(g)', xTitle: ['Climate PC1'], yTitle: ['Distances'], ts: 9.5, xOff: 28, yOff: 24}
});

// ---------- (h) ----------
makePanel({
  box: [560, 184, 684, 306], x: [-5.38, 7.45], y: [-3.63, 4.33], xTicks: pc2Ticks, yTicks: distYTicks, tl: 3, xPad: 2, yPad: 2,
  datasets: [
    pts(distPC2, '#000', 2.5, 3),
    band(distBand, 'rgba(190,190,190,0.9)', 2),
    seg(distFit, '#000', 1.2, [], 1)
  ],
  deco: {letter: '(h)', xTitle: ['Climate PC2'], yTitle: ['Distances'], ts: 9.5, xOff: 27, yOff: 25,
    ellipses: [{x: -2.32, y: 1.47, rx: 34.5, ry: 8.5, rot: -59, c: '#c0282d'}, {x: 3.85, y: -0.98, rx: 33.5, ry: 10.5, rot: -59, c: '#000'}],
    extra: (ctx, a) => {
      drawRuns(ctx, [{t: 'R', i: true}, {t: '2', sup: true}, ' = 0.046', {t: '**', sup: true}], a.right - 3, a.top + 7, 8.5, false, 'right');
    }}
});
</script>
</body>
</html>
